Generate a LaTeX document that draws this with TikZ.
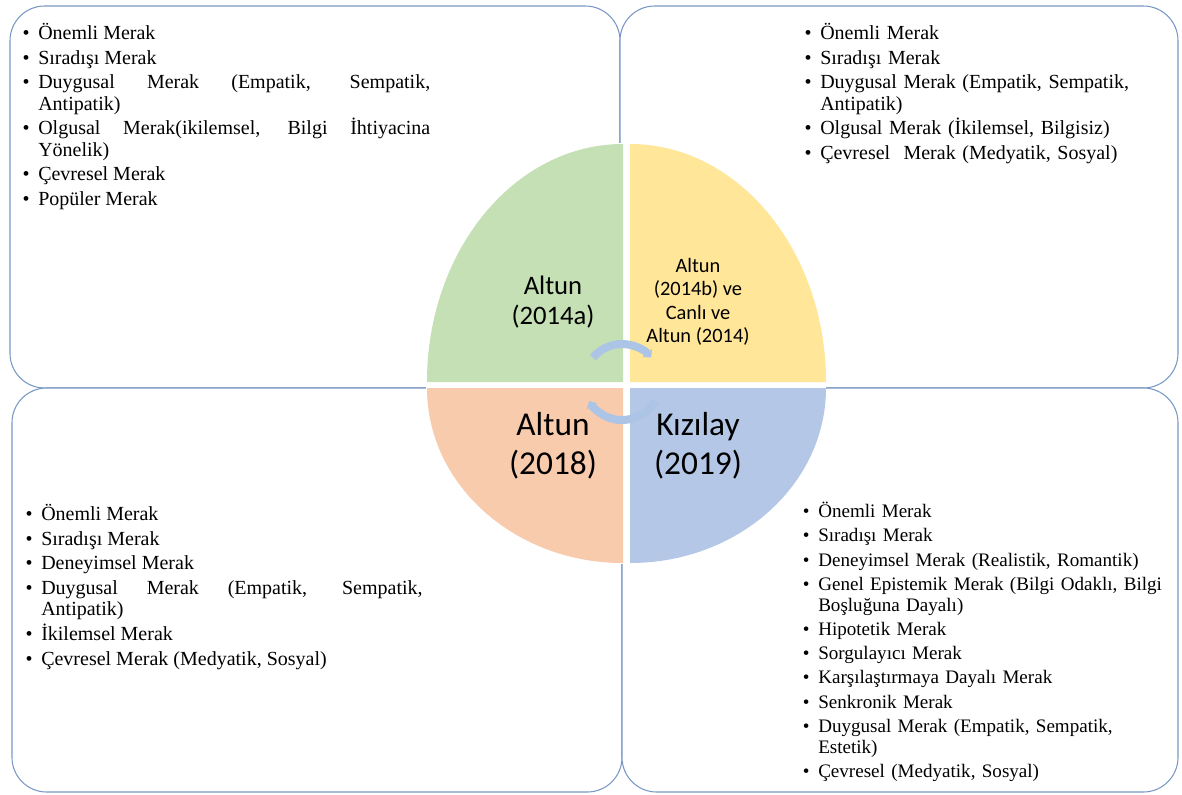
\documentclass[tikz,border=0pt]{standalone}
\usepackage{fontspec}
\setmainfont{Liberation Serif}
\newfontfamily\calibrifont{Carlito}
\usetikzlibrary{arrows.meta}

\definecolor{kutuMavi}{RGB}{122,152,196}
\definecolor{dilimYesil}{HTML}{C5E0B4}
\definecolor{dilimSari}{HTML}{FFE699}
\definecolor{dilimTuruncu}{HTML}{F8CBAD}
\definecolor{dilimMavi}{HTML}{B4C7E7}
\definecolor{okMavi}{RGB}{172,196,230}

\newenvironment{merakliste}[1][2.5pt]{%
  \hyphenpenalty=10000 \tolerance=9999
  \begin{list}{\textbullet}{\setlength{\leftmargin}{12pt}\setlength{\labelwidth}{5.5pt}%
    \setlength{\labelsep}{6.5pt}\setlength{\itemsep}{#1}\setlength{\parsep}{0pt}%
    \setlength{\topsep}{0pt}\setlength{\partopsep}{0pt}}}%
  {\end{list}}

\begin{document}
\begin{tikzpicture}[x=0.75pt,y=0.75pt,
  kutu/.style={draw=kutuMavi,line width=0.8pt,fill=white,rounded corners=26pt},
  liste/.style={anchor=base west,inner sep=0pt,font=\fontsize{15}{16}\selectfont},
  etiket/.style={align=center,inner sep=0pt,font=\calibrifont},
  ok/.style={draw=okMavi,line width=6pt,-{Triangle[width=9pt,length=4.5pt]}}]
\useasboundingbox (0,0) rectangle (1182,-794);

\draw[kutu] (10,-6) rectangle (620,-388);
\draw[kutu] (620,-6) rectangle (1178,-388);
\draw[kutu] (12,-388) rectangle (622,-792);
\draw[kutu] (622,-388) rectangle (1178,-792);

\node[liste,text width=306pt,align=justify] (sol ust) at (22,-18) {%
\begin{merakliste}
\item Önemli Merak
\item Sıradışı Merak
\item Duygusal Merak (Empatik, Sempatik,\linebreak Antipatik)
\item Olgusal Merak(ikilemsel, Bilgi İhtiyacina\linebreak Yönelik)
\item Çevresel Merak
\item Popüler Merak
\end{merakliste}};

\node[liste,text width=280pt,align=left] (sag ust) at (804,-18) {%
\begin{merakliste}
\item Önemli Merak
\item Sıradışı Merak
\item Duygusal Merak (Empatik, Sempatik,\newline Antipatik)
\item Olgusal Merak (İkilemsel, Bilgisiz)
\item Çevresel\ \ Merak (Medyatik, Sosyal)
\end{merakliste}};

\node[liste,text width=298pt,align=justify] (sol alt) at (25,-499) {%
\begin{merakliste}
\item Önemli Merak
\item Sıradışı Merak
\item Deneyimsel Merak
\item Duygusal Merak (Empatik, Sempatik,\linebreak Antipatik)
\item İkilemsel Merak
\item Çevresel Merak (Medyatik, Sosyal)
\end{merakliste}};

\node[liste,text width=280pt,align=left,font=\fontsize{14.3}{15.5}\selectfont] (sag alt) at (802,-497) {%
\begin{merakliste}[2.7pt]
\item Önemli Merak
\item Sıradışı Merak
\item Deneyimsel Merak (Realistik, Romantik)
\item Genel Epistemik Merak (Bilgi Odaklı, Bilgi\newline Boşluğuna Dayalı)
\item Hipotetik Merak
\item Sorgulayıcı Merak
\item Karşılaştırmaya Dayalı Merak
\item Senkronik Merak
\item Duygusal Merak (Empatik, Sempatik,\newline Estetik)
\item Çevresel (Medyatik, Sosyal)
\end{merakliste}};

\fill[white] (426,-385) arc[start angle=180,end angle=0,x radius=200,y radius=242]
  arc[start angle=0,end angle=-180,x radius=200,y radius=179] -- cycle;
\fill[dilimYesil] (623,-382) -- (427,-382) arc[start angle=180,end angle=90,x radius=196,y radius=238] -- cycle;
\fill[dilimSari] (630,-382) -- (826,-382) arc[start angle=0,end angle=90,x radius=196,y radius=238] -- cycle;
\fill[dilimTuruncu] (623,-388) -- (427,-388) arc[start angle=180,end angle=270,x radius=196,y radius=175] -- cycle;
\fill[dilimMavi] (630,-388) -- (826,-388) arc[start angle=0,end angle=-90,x radius=196,y radius=175] -- cycle;

\node[etiket,font=\calibrifont\fontsize{20}{22.5}\selectfont] (altun a) at (553,-302) {Altun\\(2014a)};
\node[etiket,font=\calibrifont\fontsize{15.3}{17.6}\selectfont] (altun b) at (698,-302) {Altun\\(2014b) ve\\Canlı ve\\Altun (2014)};
\node[etiket,font=\calibrifont\fontsize{25}{29}\selectfont] (altun c) at (553,-446) {Altun\\(2018)};
\node[etiket,font=\calibrifont\fontsize{25}{29}\selectfont] (kizilay) at (698,-446) {Kızılay\\(2019)};

\coordinate (merkez) at (622,-382);
\draw[ok] ([shift={(140:38)}]merkez) arc[start angle=140,end angle=40,radius=38];
\draw[ok] ([shift={(330:38)}]merkez) arc[start angle=330,end angle=210,radius=38];

\end{tikzpicture}
\end{document}
